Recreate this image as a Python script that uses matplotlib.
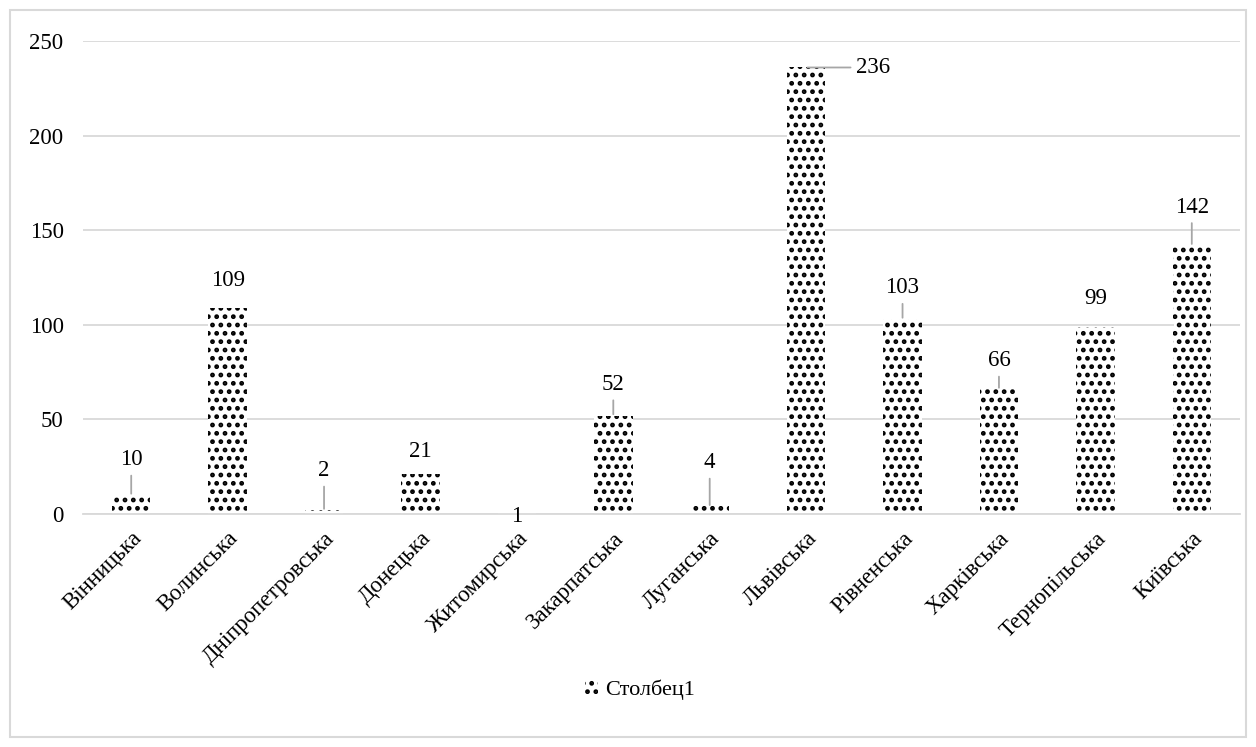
import matplotlib
matplotlib.use("Agg")
import matplotlib.pyplot as plt
from matplotlib.patches import Rectangle

regions = ["Вінницька", "Волинська", "Дніпропетровська", "Донецька",
           "Житомирська", "Закарпатська", "Луганська", "Львівська",
           "Рівненська", "Харківська", "Тернопільська", "Київська"]
values = [10, 109, 2, 21, 1, 52, 4, 236, 103, 66, 99, 142]
series_name = "Столбец1"

# label offsets in points (dx, dy) and whether a leader line is drawn
label_offsets = [(0, 18), (0, 12), (0, 21), (0, 9), (0, -3), (0, 15),
                 (0, 24), (36, 0), (0, 15), (0, 13), (0, 13), (0, 20)]
leaders = [True, False, True, False, False, True, True, True, True, True,
           False, True]

plt.rcParams['font.family'] = ['Liberation Serif', 'DejaVu Serif']
plt.rcParams['hatch.linewidth'] = 2.2

fig = plt.figure(figsize=(12.56, 7.47), dpi=100)
ax = fig.add_axes([83 / 1256, 233 / 747, 1157 / 1256, 473 / 747])

grid_col = '#d9d9d9'
x = range(len(regions))
ax.bar(x, values, width=0.4, facecolor='white', edgecolor='black',
       linewidth=0, hatch='..', label=series_name, zorder=2)

ax.set_xlim(-0.5, len(regions) - 0.5)
ax.set_ylim(0, 250)
ax.set_yticks(range(0, 251, 50))
ax.yaxis.grid(True, color=grid_col, linewidth=1.3, zorder=0)
ax.set_axisbelow(True)
for s in ['top', 'right', 'left']:
    ax.spines[s].set_visible(False)
ax.spines['bottom'].set_color(grid_col)
ax.spines['bottom'].set_linewidth(1.3)
ax.tick_params(axis='both', length=0, labelsize=16.5)
ax.tick_params(axis='y', pad=14)
ax.tick_params(axis='x', pad=10)
ax.set_xticks(list(x))
ax.set_xticklabels(regions, rotation=45, ha='right', rotation_mode='anchor')

for i, v in enumerate(values):
    dx, dy = label_offsets[i]
    if dx:
        ha, va = 'left', 'center'
    else:
        ha, va = 'center', 'bottom' if dy > 0 else 'center'
    arrow = dict(arrowstyle='-', color='#a6a6a6', lw=1.3,
                 shrinkA=2, shrinkB=1) if leaders[i] else None
    ax.annotate(str(v), xy=(i, v), xytext=(dx, dy),
                textcoords='offset points', ha=ha, va=va,
                fontsize=16.5, arrowprops=arrow, zorder=3)

leg = fig.legend(loc='center', bbox_to_anchor=(640 / 1256, 1 - 690 / 747),
                 frameon=False, fontsize=16, handlelength=0.6,
                 handleheight=0.6, handletextpad=0.3)

fig.add_artist(Rectangle((10 / 1256, 10 / 747), 1236 / 1256, 727 / 747,
                         transform=fig.transFigure, fill=False,
                         edgecolor=grid_col, linewidth=1.5))

fig.savefig("out.png", dpi=100)
